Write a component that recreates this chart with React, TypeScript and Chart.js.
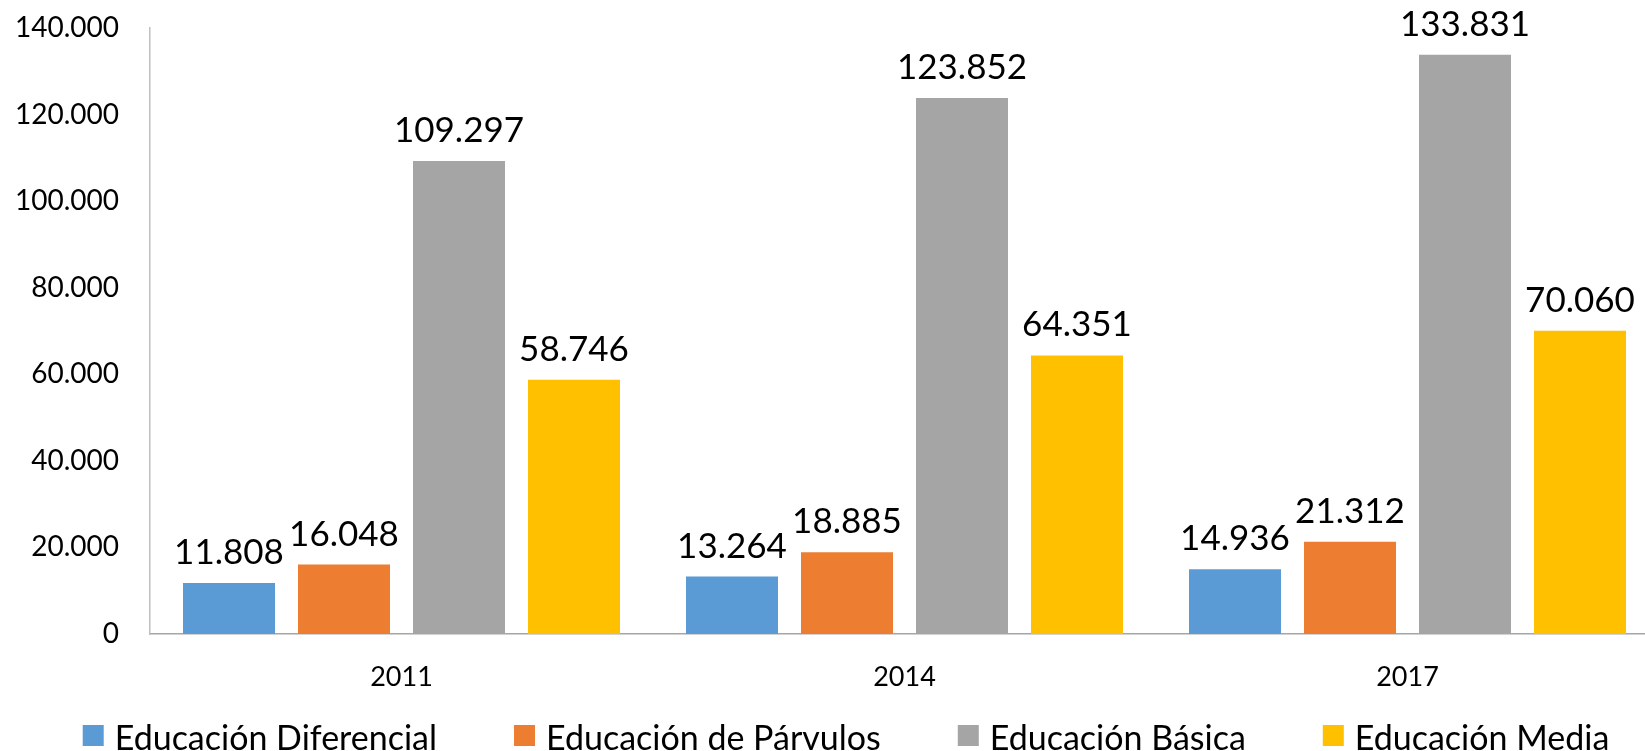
import React, { useEffect, useRef } from "react";
import { Chart, registerables } from "chart.js";

Chart.register(...registerables);

const categories = ["2011", "2014", "2017"];
const seriesNames = [
  "Educación Diferencial",
  "Educación de Párvulos",
  "Educación Básica",
  "Educación Media",
];
const diferencial = [11808, 13264, 14936];
const parvulos = [16048, 18885, 21312];
const basica = [109297, 123852, 133831];
const media = [58746, 64351, 70060];
const seriesColors = ["#5B9BD5", "#ED7D31", "#A5A5A5", "#FFC000"];
const yMin = 0;
const yMax = 140000;
const yStep = 20000;

const FONT = "Lato, Carlito, Calibri, sans-serif";

function fmt(n: number): string {
  return String(Math.round(n)).replace(/\B(?=(\d{3})+(?!\d))/g, ".");
}

const dataLabelPlugin = {
  id: "dataLabels",
  afterDatasetsDraw(chart: any) {
    const ctx = chart.ctx;
    ctx.save();
    ctx.font = `35px ${FONT}`;
    ctx.fillStyle = "#000";
    ctx.textAlign = "center";
    ctx.textBaseline = "alphabetic";
    chart.data.datasets.forEach((ds: any, di: number) => {
      const meta = chart.getDatasetMeta(di);
      meta.data.forEach((el: any, i: number) => {
        ctx.fillText(fmt(ds.data[i]), el.x, el.y - 19);
      });
    });
    ctx.restore();
  },
};

const bottomLegendPlugin = {
  id: "bottomLegend",
  afterDraw(chart: any) {
    const ctx = chart.ctx;
    const box = 21;
    const boxGap = 11;
    const itemGap = 77;
    const centerX = 846;
    const boxTop = 725;
    const baseline = 750;
    ctx.save();
    ctx.font = `34px ${FONT}`;
    const items = chart.data.datasets.map((ds: any) => ({
      text: ds.label as string,
      color: ds.backgroundColor as string,
      w: ctx.measureText(ds.label).width as number,
    }));
    const total =
      items.reduce((s: number, it: any) => s + box + boxGap + it.w, 0) +
      itemGap * (items.length - 1);
    let x = centerX - total / 2;
    ctx.textAlign = "left";
    ctx.textBaseline = "alphabetic";
    items.forEach((it: any) => {
      ctx.fillStyle = it.color;
      ctx.fillRect(x, boxTop, box, box);
      ctx.fillStyle = "#000";
      ctx.fillText(it.text, x + box + boxGap, baseline);
      x += box + boxGap + it.w + itemGap;
    });
    ctx.restore();
  },
};

export default function App() {
  const ref = useRef<HTMLCanvasElement | null>(null);

  useEffect(() => {
    if (!ref.current) return;
    const allSeries = [diferencial, parvulos, basica, media];
    const chart = new Chart(ref.current, {
      type: "bar",
      data: {
        labels: categories,
        datasets: allSeries.map((d, i) => ({
          label: seriesNames[i],
          data: d,
          backgroundColor: seriesColors[i],
          borderWidth: 0,
          categoryPercentage: 0.9145,
          barPercentage: 0.8,
        })),
      },
      options: {
        animation: false,
        responsive: false,
        maintainAspectRatio: false,
        layout: { padding: { top: 28, right: 33, left: 0, bottom: 47 } },
        plugins: {
          legend: { display: false },
          tooltip: { enabled: false },
        },
        scales: {
          x: {
            grid: { display: false, drawTicks: false },
            border: { display: true, color: "#A6A6A6", width: 1.5 },
            ticks: { color: "#000", font: { family: FONT, size: 27 }, padding: 27 },
            afterFit: (s: any) => {
              s.height = 70;
            },
          },
          y: {
            min: yMin,
            max: yMax,
            grid: { display: false, drawTicks: false },
            border: { display: true, color: "#BFBFBF", width: 1.5 },
            ticks: {
              stepSize: yStep,
              color: "#000",
              font: { family: FONT, size: 28 },
              padding: 31,
              callback: (v: any) => fmt(Number(v)),
            },
            afterFit: (s: any) => {
              s.width = 150;
              s.paddingTop = 0;
              s.paddingBottom = 0;
            },
          },
        },
      },
      plugins: [dataLabelPlugin, bottomLegendPlugin],
    });
    return () => chart.destroy();
  }, []);

  return (
    <div
      style={{
        position: "absolute",
        left: 0,
        top: 0,
        width: 1645,
        height: 751,
        overflow: "hidden",
        background: "#fff",
      }}
    >
      <canvas ref={ref} width={1692} height={751} style={{ width: 1692, height: 751, display: "block" }} />
    </div>
  );
}
